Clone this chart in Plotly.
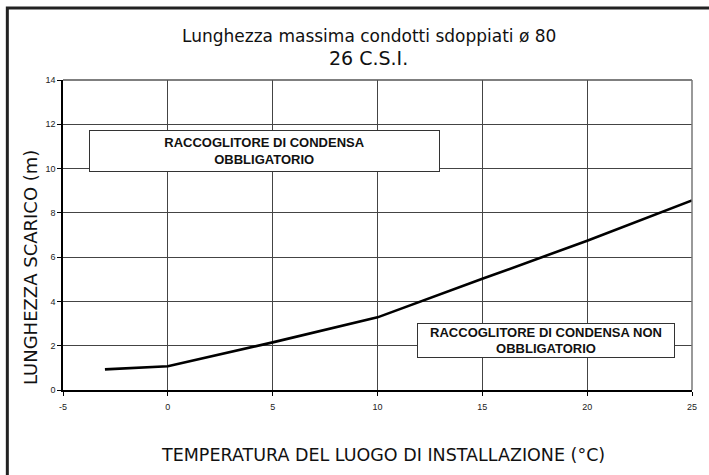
import plotly.graph_objects as go

# data
temp_c = [-3, 0, 5, 10, 15, 20, 25]
length_m = [0.93, 1.07, 2.15, 3.28, 5.02, 6.74, 8.56]
x_ticks = [-5, 0, 5, 10, 15, 20, 25]
y_ticks = [0, 2, 4, 6, 8, 10, 12, 14]

title1 = "Lunghezza massima condotti sdoppiati ø 80"
title2 = "26 C.S.I."
ytitle = "LUNGHEZZA SCARICO (m)"
xtitle = "TEMPERATURA DEL LUOGO DI INSTALLAZIONE (°C)"
box1 = "RACCOGLITORE DI CONDENSA<br>OBBLIGATORIO"
box2 = "RACCOGLITORE DI CONDENSA NON<br>OBBLIGATORIO"

TF = "DejaVu Sans, Open Sans, sans-serif"
AF = "Liberation Sans, Arial, sans-serif"

fig = go.Figure()
fig.add_trace(go.Scatter(x=temp_c, y=length_m, mode="lines",
                         line=dict(color="black", width=2.6), showlegend=False,
                         hoverinfo="skip"))

fig.update_layout(
    width=709, height=475,
    margin=dict(l=63, r=13, t=80, b=85),
    paper_bgcolor="white", plot_bgcolor="white",
    showlegend=False,
    xaxis=dict(range=[-5, 25], tickvals=x_ticks, ticktext=[str(v) for v in x_ticks],
               showgrid=True, gridcolor="#444", gridwidth=1,
               showline=True, linecolor="black", linewidth=1.5,
               ticks="outside", ticklen=4, tickcolor="black", tickwidth=1,
               tickfont=dict(family=AF, size=9, color="#222"),
               ticklabelstandoff=3, zeroline=False, fixedrange=True),
    yaxis=dict(range=[0, 14], tickvals=y_ticks, ticktext=[str(v) for v in y_ticks],
               showgrid=True, gridcolor="#444", gridwidth=1,
               showline=True, linecolor="black", linewidth=1.5,
               ticks="outside", ticklen=4, tickcolor="black", tickwidth=1,
               tickfont=dict(family=AF, size=9, color="#222"),
               zeroline=False, fixedrange=True),
)

# plot frame top/right (grey) and outer border
fig.add_shape(type="line", xref="paper", yref="paper", x0=0, x1=1, y0=1, y1=1,
              line=dict(color="#555", width=1.5))
fig.add_shape(type="line", xref="paper", yref="paper", x0=1, x1=1, y0=0, y1=1,
              line=dict(color="#777", width=1.5))
fig.add_shape(type="rect", xref="paper", yref="paper",
              x0=-0.0885, x1=1.05, y0=-0.4, y1=1.232,
              line=dict(color="#222", width=3), fillcolor="rgba(0,0,0,0)")

anns = [
    dict(text=title1, x=0.487, y=1.142, font=dict(family=TF, size=17, color="#111")),
    dict(text=title2, x=0.486, y=1.072, font=dict(family=TF, size=19, color="#111")),
    dict(text=xtitle, x=0.509, y=-0.21, font=dict(family=TF, size=17.5, color="#111")),
    dict(text=ytitle, x=-0.0506, y=0.397, textangle=-90,
         font=dict(family=TF, size=18, color="#111")),
]
for a in anns:
    fig.add_annotation(xref="paper", yref="paper", showarrow=False,
                       xanchor="center", yanchor="middle", **a)

fig.add_annotation(text="<b>" + box1 + "</b>", x=4.6, y=10.8, xref="x", yref="y",
                   showarrow=False, width=349, height=40, borderpad=0,
                   bgcolor="white", bordercolor="#333", borderwidth=1,
                   font=dict(family=AF, size=13, color="#111"))
fig.add_annotation(text="<b>" + box2 + "</b>", x=18.03, y=2.25, xref="x", yref="y",
                   showarrow=False, width=256, height=33, borderpad=0,
                   bgcolor="white", bordercolor="#333", borderwidth=1,
                   font=dict(family=AF, size=13, color="#111"))

fig.write_html("out.html", config={"displayModeBar": False},
               post_script="document.body.style.margin='0px';")
